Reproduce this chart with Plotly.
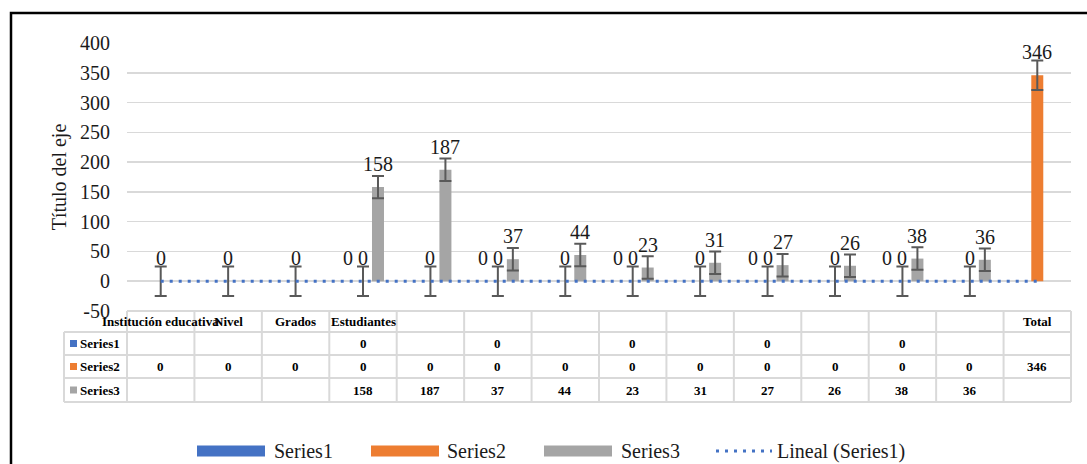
import numpy as np
import plotly.graph_objects as go

# ---------------- data ----------------
categories = ["Institución educativa", "Nivel", "Grados", "Estudiantes",
              "", "", "", "", "", "", "", "", "", "Total"]
series1 = [None, None, None, 0, None, 0, None, 0, None, 0, None, 0, None, None]
series2 = [0, 0, 0, 0, 0, 0, 0, 0, 0, 0, 0, 0, 0, 346]
series3 = [None, None, None, 158, 187, 37, 44, 23, 31, 27, 26, 38, 36, None]
series_names = ["Series1", "Series2", "Series3"]
trend_name = "Lineal (Series1)"
y_tick_values = [-50, 0, 50, 100, 150, 200, 250, 300, 350, 400]
y_tick_labels = ["-50", "0", "50", "100", "150", "200", "250", "300", "350", "400"]
y_title = "Título del eje"

# ---------------- style ----------------
W, H = 1087, 464
L, R, T, B = 127, 16, 43, 153
PW, PH = W - L - R, H - T - B
colors = ["#4472C4", "#ED7D31", "#A5A5A5"]
err_color = "#595959"
grid_color = "#D9D9D9"
txt_color = "#1a1a1a"
FONT = "Liberation Serif, Times New Roman, serif"
bargap = 0.333
bargroupgap = 0.2


def px_x(p):
    return (p - L) / PW


def px_y(p):
    return (H - B - p) / PH


def std_err(vals):
    v = np.array([a for a in vals if a is not None], dtype=float)
    if len(v) < 2:
        return 0.0
    return float(np.std(v, ddof=1) / np.sqrt(len(v)))


xs = list(range(len(categories)))
all_series = [series1, series2, series3]

fig = go.Figure()
for name, vals, col in zip(series_names, all_series, colors):
    se = std_err(vals)
    fig.add_trace(go.Bar(
        x=xs, y=vals, name=name, marker=dict(color=col, line=dict(width=0)),
        error_y=dict(type="constant", value=se, visible=se > 0,
                     color=err_color, thickness=2, width=6),
        showlegend=False, hoverinfo="skip",
    ))

# linear trendline of Series1
tx = [i for i, v in zip(xs, series1) if v is not None]
ty = [v for v in series1 if v is not None]
coef = np.polyfit(tx, ty, 1)
trend_x = [xs[0], xs[-1]]
trend_y = [float(np.polyval(coef, x)) + 0.0 for x in trend_x]
fig.add_trace(go.Scatter(
    x=trend_x, y=trend_y, mode="lines", name=trend_name,
    line=dict(color="#4472C4", width=3, dash="3px,6px"), showlegend=False,
    hoverinfo="skip",
))

annotations = []
shapes = []

# data labels
slot = (1 - bargap) / 3
for s, vals in enumerate(all_series):
    for i, v in zip(xs, vals):
        if v is None:
            continue
        annotations.append(dict(
            x=i + (s - 1) * slot, y=v, xref="x", yref="y", text=str(v),
            showarrow=False, yanchor="middle", yshift=23,
            font=dict(family=FONT, size=20, color=txt_color)))

# data table
n = len(categories)
row_edges = [311, 332, 355, 378, 402]
left_px = 64
tcol = "#D9D9D9"
shapes.append(dict(type="line", xref="paper", yref="paper", x0=0, x1=1,
                   y0=px_y(row_edges[0]), y1=px_y(row_edges[0]),
                   line=dict(color=tcol, width=2)))
for r in row_edges[1:]:
    shapes.append(dict(type="line", xref="paper", yref="paper",
                       x0=px_x(left_px), x1=1, y0=px_y(r), y1=px_y(r),
                       line=dict(color=tcol, width=2)))
for k in range(n + 1):
    shapes.append(dict(type="line", xref="paper", yref="paper",
                       x0=k / n, x1=k / n, y0=px_y(row_edges[0]), y1=px_y(row_edges[-1]),
                       line=dict(color=tcol, width=2)))
shapes.append(dict(type="line", xref="paper", yref="paper",
                   x0=px_x(left_px), x1=px_x(left_px), y0=px_y(row_edges[1]),
                   y1=px_y(row_edges[-1]), line=dict(color=tcol, width=2)))

tfont = dict(family=FONT, size=13, color="#000000")
hdr_y = px_y((row_edges[0] + row_edges[1]) / 2)
for i, c in enumerate(categories):
    if c:
        annotations.append(dict(x=(i + 0.5) / n, y=hdr_y, xref="paper", yref="paper",
                                text="<b>%s</b>" % c, showarrow=False,
                                xanchor="center", yanchor="middle", font=tfont))
for r, (name, vals, col) in enumerate(zip(series_names, all_series, colors)):
    cy = (row_edges[r + 1] + row_edges[r + 2]) / 2
    shapes.append(dict(type="rect", xref="paper", yref="paper",
                       x0=px_x(70), x1=px_x(77), y0=px_y(cy + 3.5), y1=px_y(cy - 3.5),
                       fillcolor=col, line=dict(width=0)))
    annotations.append(dict(x=px_x(78), y=px_y(cy), xref="paper", yref="paper",
                            text="<b>%s</b>" % name, showarrow=False,
                            xanchor="left", yanchor="middle", font=tfont))
    for i, v in zip(xs, vals):
        if v is None:
            continue
        annotations.append(dict(x=(i + 0.5) / n, y=px_y(cy), xref="paper", yref="paper",
                                text="<b>%s</b>" % v, showarrow=False,
                                xanchor="center", yanchor="middle", font=tfont))

# manual legend
leg_y = 451
leg_items = [(series_names[0], colors[0], 197, 265, 272),
             (series_names[1], colors[1], 371, 439, 445),
             (series_names[2], colors[2], 544, 612, 619)]
for name, col, x0, x1, tx0 in leg_items:
    shapes.append(dict(type="rect", xref="paper", yref="paper",
                       x0=px_x(x0), x1=px_x(x1), y0=px_y(leg_y + 5.5), y1=px_y(leg_y - 5.5),
                       fillcolor=col, line=dict(width=0)))
    annotations.append(dict(x=px_x(tx0), y=px_y(leg_y), xref="paper", yref="paper",
                            text=name, showarrow=False, xanchor="left", yanchor="middle",
                            font=dict(family=FONT, size=20, color=txt_color)))
shapes.append(dict(type="line", xref="paper", yref="paper",
                   x0=px_x(716), x1=px_x(772), y0=px_y(leg_y), y1=px_y(leg_y),
                   line=dict(color="#4472C4", width=3, dash="3px,6px")))
annotations.append(dict(x=px_x(775), y=px_y(leg_y), xref="paper", yref="paper",
                        text=trend_name, showarrow=False, xanchor="left", yanchor="middle",
                        font=dict(family=FONT, size=20, color=txt_color)))

# chart border
shapes.append(dict(type="rect", xref="paper", yref="paper",
                   x0=px_x(11), x1=px_x(1110), y0=px_y(490), y1=px_y(13),
                   line=dict(color="#000000", width=2.5), fillcolor="rgba(0,0,0,0)"))

fig.update_layout(
    width=W, height=H, margin=dict(l=L, r=R, t=T, b=B),
    paper_bgcolor="white", plot_bgcolor="white",
    barmode="group", bargap=bargap, bargroupgap=bargroupgap,
    showlegend=False, hovermode=False,
    font=dict(family=FONT, color=txt_color),
    xaxis=dict(range=[-0.5, n - 0.5], showticklabels=False, showgrid=False,
               zeroline=False, showline=False, ticks=""),
    yaxis=dict(range=[-50, 400], tickvals=y_tick_values, ticktext=y_tick_labels,
               showgrid=True, gridcolor=grid_color, gridwidth=1.5, zeroline=False,
               showline=False, ticks="", ticklabelstandoff=16,
               tickfont=dict(family=FONT, size=20, color=txt_color),
               title=dict(text=y_title, font=dict(family=FONT, size=20, color=txt_color),
                          standoff=8)),
    annotations=annotations, shapes=shapes,
)

fig.write_html("out.html", config={"displayModeBar": False, "staticPlot": True},
               post_script="document.body.style.margin='0';document.body.style.overflow='hidden';")
